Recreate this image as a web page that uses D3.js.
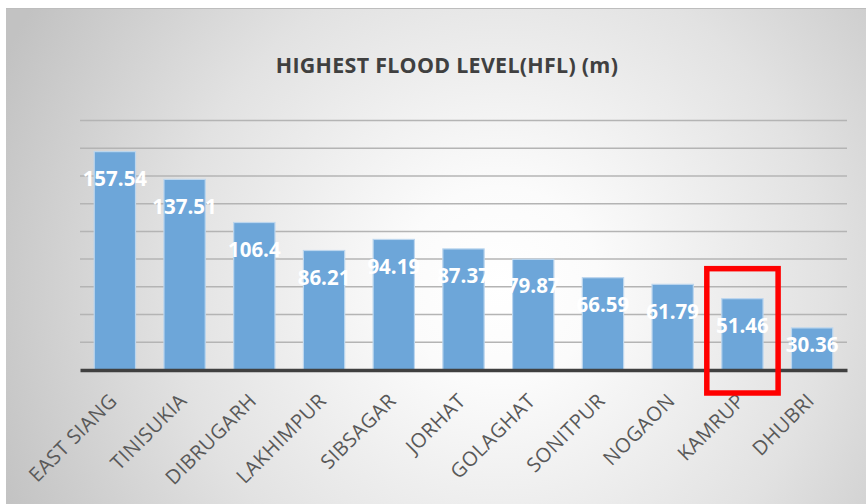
<!DOCTYPE html>
<html>
<head>
<meta charset="utf-8">
<script src="https://cdn.jsdelivr.net/npm/d3@7"></script>
<style>
  html, body { margin: 0; padding: 0; background: #ffffff; }
  svg { display: block; }
</style>
</head>
<body>
<svg id="chart" width="866" height="504"></svg>
<script>
// Highest flood level by district (m)
const districts = ["EAST SIANG", "TINISUKIA", "DIBRUGARH", "LAKHIMPUR", "SIBSAGAR", "JORHAT",
                   "GOLAGHAT", "SONITPUR", "NOGAON", "KAMRUP", "DHUBRI"];
const hflValues = [157.54, 137.51, 106.4, 86.21, 94.19, 87.37, 79.87, 66.59, 61.79, 51.46, 30.36];
const valueLabels = ["157.54", "137.51", "106.4", "86.21", "94.19", "87.37", "79.87", "66.59", "61.79", "51.46", "30.36"];
const gridTicks = [20, 40, 60, 80, 100, 120, 140, 160, 180];
const highlighted = "KAMRUP";
const chartTitle = "HIGHEST FLOOD LEVEL(HFL) (m)";

const W = 866, H = 504;
const svg = d3.select("#chart");
const defs = svg.append("defs");

// soft radial background fill of the chart area
const grad = defs.append("radialGradient")
  .attr("id", "bg").attr("gradientUnits", "userSpaceOnUse")
  .attr("cx", 500).attr("cy", 285).attr("r", 545);
grad.append("stop").attr("offset", 0).attr("stop-color", "#ffffff");
grad.append("stop").attr("offset", 0.18).attr("stop-color", "#fbfbfb");
grad.append("stop").attr("offset", 0.6).attr("stop-color", "#e2e2e2");
grad.append("stop").attr("offset", 1).attr("stop-color", "#c2c2c2");

svg.append("rect").attr("x", 6).attr("y", 8).attr("width", W - 6).attr("height", H - 8)
  .attr("fill", "url(#bg)");
svg.append("line").attr("x1", 6).attr("x2", W).attr("y1", 8.5).attr("y2", 8.5)
  .attr("stroke", "#bdbdbd").attr("stroke-width", 1);

const plot = { left: 80, right: 847, top: 120.5, bottom: 370 };

const x = d3.scaleBand()
  .domain(districts)
  .range([plot.left, plot.right])
  .paddingInner(0.408)
  .paddingOuter(0.204);

const y = d3.scaleLinear().domain([0, 180]).range([plot.bottom, plot.top]);

// title
svg.append("text")
  .attr("x", 447).attr("y", 72.5)
  .attr("text-anchor", "middle")
  .attr("font-family", "'Open Sans', sans-serif")
  .attr("font-weight", 700)
  .attr("font-size", 21.4)
  .attr("letter-spacing", 0.3)
  .attr("fill", "#404040")
  .text(chartTitle);

// horizontal gridlines
svg.append("g").selectAll("line").data(gridTicks).join("line")
  .attr("x1", plot.left).attr("x2", plot.right)
  .attr("y1", d => y(d)).attr("y2", d => y(d))
  .attr("stroke", "#b4b4b4").attr("stroke-width", 1.5);

// bars
svg.append("g").selectAll("rect").data(hflValues).join("rect")
  .attr("x", (d, i) => x(districts[i]))
  .attr("y", d => y(d))
  .attr("width", x.bandwidth())
  .attr("height", d => y(0) - y(d))
  .attr("fill", "#6da6d9")
  .attr("stroke", "#bcd6ee")
  .attr("stroke-width", 1.2);

// x axis line and rotated district names
const xAxis = d3.axisBottom(x).tickSize(0).tickPadding(0);
const gx = svg.append("g").attr("transform", `translate(0,${plot.bottom})`).call(xAxis);
gx.select(".domain").attr("stroke", "#404040").attr("stroke-width", 3.4);
gx.selectAll(".tick text")
  .attr("font-family", "'Open Sans', sans-serif")
  .attr("font-size", 20)
  .attr("letter-spacing", 0.5)
  .attr("fill", "#595959")
  .attr("text-anchor", "end")
  .attr("dy", null)
  .attr("y", null)
  .attr("transform", "translate(3.5,32) rotate(-45)");

// value labels inside the bar ends
svg.append("g").selectAll("text").data(hflValues).join("text")
  .attr("x", (d, i) => x(districts[i]) + x.bandwidth() / 2)
  .attr("y", d => {
    const top = y(d), h = y(0) - top;
    const offset = Math.max(17, Math.min(27, h - 27));
    return top + offset + 7.2;
  })
  .attr("text-anchor", "middle")
  .attr("font-family", "'Open Sans', sans-serif")
  .attr("font-weight", 700)
  .attr("font-size", 20.5)
  .attr("fill", "#ffffff")
  .text((d, i) => valueLabels[i]);

// highlight box around one district
const hv = hflValues[districts.indexOf(highlighted)];
const hc = x(highlighted) + x.bandwidth() / 2;
svg.append("rect")
  .attr("x", hc - 35.6)
  .attr("y", y(hv) - 30)
  .attr("width", 71.3)
  .attr("height", (plot.bottom + 23) - (y(hv) - 30))
  .attr("fill", "none")
  .attr("stroke", "#ff0000")
  .attr("stroke-width", 5.5);
</script>
</body>
</html>
